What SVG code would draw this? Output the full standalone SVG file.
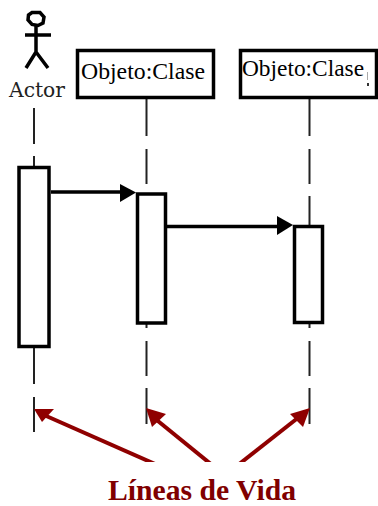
<svg xmlns="http://www.w3.org/2000/svg" width="378" height="506" viewBox="0 0 378 506">
<defs>
<style>
.box{fill:#fff;stroke:#000;stroke-width:3.5}
.life{fill:none;stroke:#222;stroke-width:2}
.msg{fill:none;stroke:#000;stroke-width:3.5}
.head{fill:#000}
.red{fill:none;stroke:#8f0000;stroke-width:4}
.redhead{fill:#8f0000}
.lbl{font-family:"Liberation Serif","Times New Roman",serif;font-size:24px;fill:#000}
</style>
<clipPath id="corte"><rect x="0" y="400" width="378" height="62"/></clipPath>
</defs>
<rect width="378" height="506" fill="#fff"/>
<g id="lifelines" class="connectors">
<path class="life" d="M34 108V144M34 156V168M34 347V384M34 397V432"/>
<path class="life" d="M146.500 99V136M146.500 149V184M146.500 323V328M146.500 341V376M146.500 388V424"/>
<path class="life" d="M309.500 99V136M309.500 149V184M309.500 196V226M309.500 323V328M309.500 341V376M309.500 388V424"/>
</g>
<g id="actor">
<path d="M32 12.500L40 12.500L44 17L43 23L38 25.500L32 24.500L28 20L28.500 15Z" fill="none" stroke="#000" stroke-width="3.500"/>
<path d="M36 25V52M25 35H51M36 52L26 68M36 52L48 68" fill="none" stroke="#000" stroke-width="3.500"/>
<text x="9" y="96.500" font-family="'DejaVu Serif',serif" font-size="21" fill="#222" textLength="56" lengthAdjust="spacingAndGlyphs">Actor</text>
</g>
<g id="objeto1">
<rect class="box" x="77.500" y="50.500" width="136" height="47"/>
<text class="lbl" x="81" y="78.500" textLength="124" lengthAdjust="spacingAndGlyphs">Objeto:Clase</text>
</g>
<g id="objeto2">
<rect class="box" x="240.500" y="50.500" width="136" height="47"/>
<text class="lbl" x="242" y="76" textLength="122" lengthAdjust="spacingAndGlyphs">Objeto:Clase</text>
<rect x="367" y="72" width="1" height="8" fill="#aaa"/>
<rect x="367" y="83" width="2" height="3" fill="#333"/>
</g>
<g id="activacion1"><rect class="box" x="19" y="167.500" width="30" height="179"/></g>
<g id="activacion2"><rect class="box" x="137.500" y="194" width="28" height="129"/></g>
<g id="activacion3"><rect class="box" x="294.500" y="226.500" width="28" height="96"/></g>
<g id="mensajes" class="connectors">
<path class="msg" d="M51 192H122"/>
<polygon class="head" points="120,184 136,192.500 120,202"/>
<path class="msg" d="M167 226.500H278"/>
<polygon class="head" points="277,216 293,225 277,235"/>
</g>
<g id="flechas" class="connectors" clip-path="url(#corte)">
<path class="red" d="M155 464L44 415"/>
<polygon class="redhead" points="34,409 54,409 42,422"/>
<path class="red" d="M212 465L153 417"/>
<polygon class="redhead" points="146,408 166,414 152,427"/>
<path class="red" d="M238 465L299 417"/>
<polygon class="redhead" points="310,408 290,414 303,427"/>
</g>
<g id="titulo">
<text x="108" y="499.500" font-family="'Liberation Serif','Times New Roman',serif" font-size="29" font-weight="bold" fill="#800000" textLength="188" lengthAdjust="spacingAndGlyphs">Líneas de Vida</text>
</g>
</svg>
